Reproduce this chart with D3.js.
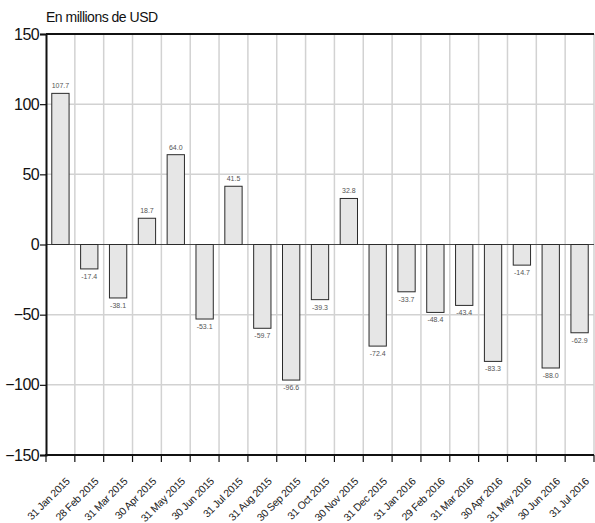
<!DOCTYPE html>
<html lang="fr">
<head>
<meta charset="UTF-8">
<title>En millions de USD</title>
<script src="https://d3js.org/d3.v7.min.js"></script>
<style>
    body { margin: 0; background: #ffffff; }
    svg { display: block; font-family: "Liberation Sans", Arial, sans-serif; }
    .titre { font-size: 14px; fill: #111; letter-spacing: -0.5px; }
    .axe-y text { font-size: 16px; fill: #111; letter-spacing: -0.6px; }
    .etiquette-x { font-size: 10.5px; fill: #222; letter-spacing: -0.3px; }
    .valeur { font-size: 7px; fill: #555; }
</style>
</head>
<body>
<svg width="595" height="523"></svg>
<script>
    // Données
    const mois = ["31 Jan 2015", "28 Feb 2015", "31 Mar 2015", "30 Apr 2015", "31 May 2015",
        "30 Jun 2015", "31 Jul 2015", "31 Aug 2015", "30 Sep 2015", "31 Oct 2015",
        "30 Nov 2015", "31 Dec 2015", "31 Jan 2016", "29 Feb 2016", "31 Mar 2016",
        "30 Apr 2016", "31 May 2016", "30 Jun 2016", "31 Jul 2016"];
    const valeurs = [107.7, -17.4, -38.1, 18.7, 64.0, -53.1, 41.5, -59.7, -96.6, -39.3,
        32.8, -72.4, -33.7, -48.4, -43.4, -83.3, -14.7, -88.0, -62.9];
    const ticksY = [-150, -100, -50, 0, 50, 100, 150];
    const grilleY = [-100, -50, 50, 100];

    const svg = d3.select("svg");
    const gauche = 46, droite = 594, haut = 34, bas = 455;

    const x = d3.scaleBand().domain(mois).range([gauche, droite])
        .paddingInner(0.4).paddingOuter(0.2);
    const xb = d3.scaleBand().domain(mois).range([gauche, droite]).padding(0);
    const y = d3.scaleLinear().domain([-150, 150]).range([bas, haut]);
    const pas = xb.step();

    // grille horizontale
    svg.append("g").selectAll("line").data(grilleY).join("line")
        .attr("x1", gauche).attr("x2", droite)
        .attr("y1", d => y(d)).attr("y2", d => y(d))
        .attr("stroke", "#d2d2d2").attr("stroke-width", 1.5);

    // grille verticale (frontières des catégories)
    svg.append("g").selectAll("line").data(mois.slice(1).concat(["fin"])).join("line")
        .attr("x1", (d, i) => gauche + (i + 1) * pas)
        .attr("x2", (d, i) => gauche + (i + 1) * pas)
        .attr("y1", haut).attr("y2", bas)
        .attr("stroke", "#d2d2d2").attr("stroke-width", 1.5);

    // ligne zéro
    svg.append("line")
        .attr("x1", gauche).attr("x2", droite)
        .attr("y1", y(0)).attr("y2", y(0))
        .attr("stroke", "#444").attr("stroke-width", 1);

    // barres
    svg.append("g").selectAll("rect").data(valeurs).join("rect")
        .attr("x", (d, i) => x(mois[i]))
        .attr("width", x.bandwidth())
        .attr("y", d => y(Math.max(0, d)))
        .attr("height", d => Math.abs(y(d) - y(0)))
        .attr("fill", "#e6e6e6")
        .attr("stroke", "#2a2a2a")
        .attr("stroke-width", 1);

    // étiquettes de valeur
    svg.append("g").selectAll("text").data(valeurs).join("text")
        .attr("class", "valeur")
        .attr("text-anchor", "middle")
        .attr("x", (d, i) => x(mois[i]) + x.bandwidth() / 2)
        .attr("y", d => d >= 0 ? y(d) - 5 : y(d) + 10)
        .text(d => d.toFixed(1));

    // cadre haut
    svg.append("line")
        .attr("x1", gauche).attr("x2", droite)
        .attr("y1", haut).attr("y2", haut)
        .attr("stroke", "#111").attr("stroke-width", 2);

    // axe Y
    const axeY = svg.append("g").attr("class", "axe-y")
        .attr("transform", `translate(${gauche},0)`)
        .call(d3.axisLeft(y).tickValues(ticksY).tickSize(6).tickPadding(1).tickFormat(d3.format("d")));
    axeY.select(".domain").attr("stroke", "#111").attr("stroke-width", 2);
    axeY.selectAll(".tick line").attr("stroke", "#111").attr("stroke-width", 1.2);

    // axe X
    svg.append("line")
        .attr("x1", gauche - 1).attr("x2", droite)
        .attr("y1", bas).attr("y2", bas)
        .attr("stroke", "#111").attr("stroke-width", 2);
    svg.append("g").selectAll("line").data(d3.range(mois.length + 1)).join("line")
        .attr("x1", i => gauche + i * pas).attr("x2", i => gauche + i * pas)
        .attr("y1", bas).attr("y2", bas + 7)
        .attr("stroke", "#111").attr("stroke-width", 1.2);

    svg.append("g").selectAll("text").data(mois).join("text")
        .attr("class", "etiquette-x")
        .attr("text-anchor", "end")
        .attr("transform", d => `translate(${xb(d) + pas / 2 + 10},482) rotate(-45)`)
        .text(d => d);

    // titre
    svg.append("text")
        .attr("class", "titre")
        .attr("x", 46).attr("y", 22)
        .text("En millions de USD");
</script>
</body>
</html>
